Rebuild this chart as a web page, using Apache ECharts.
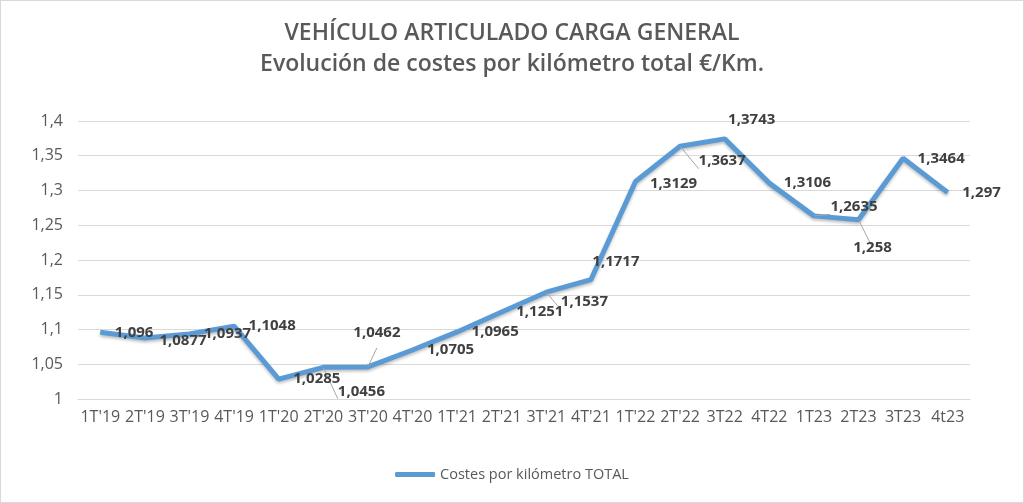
<!DOCTYPE html>
<html>
<head>
<meta charset="utf-8">
<script src="https://cdn.jsdelivr.net/npm/echarts@6/dist/echarts.min.js"></script>
<style>
  html, body { margin: 0; padding: 0; background: #fff; }
  #chart { width: 1022px; height: 501px; border: 1px solid #d9d9d9; }
</style>
</head>
<body>
<div id="chart"></div>
<script>
// datos
var categorias = ["1T'19", "2T'19", "3T'19", "4T'19", "1T'20", "2T'20", "3T'20", "4T'20",
  "1T'21", "2T'21", "3T'21", "4T'21", "1T'22", "2T'22", "3T22", "4T22",
  "1T23", "2T23", "3T23", "4t23"];
var costesTotal = [1.096, 1.0877, 1.0937, 1.1048, 1.0285, 1.0456, 1.0462, 1.0705,
  1.0965, 1.1251, 1.1537, 1.1717, 1.3129, 1.3637, 1.3743, 1.3106,
  1.2635, 1.258, 1.3464, 1.297];
var nombreSerie = 'Costes por kilómetro TOTAL';

// colocacion de etiquetas (como en el original de Excel)
var posEtiqueta = {
  1: { position: 'right', offset: [0, 3] },
  5: { position: 'right', offset: [0, 24] },
  6: { position: 'top', offset: [9, -12] },
  10: { position: 'right', offset: [0, 10] },
  11: { position: 'top', offset: [25, 4] },
  12: { position: 'right', offset: [0, 2] },
  13: { position: 'right', offset: [4, 15] },
  14: { position: 'top', offset: [27, 3] },
  16: { position: 'right', offset: [2, -9] },
  17: { position: 'bottom', offset: [14, 6] }
};
var conGuia = [5, 6, 10, 13, 16, 17];

var coma = function(v) { return String(v).replace('.', ','); };

var datos = costesTotal.map(function(v, i) {
  var d = { value: v };
  if (posEtiqueta[i]) d.label = posEtiqueta[i];
  if (conGuia.indexOf(i) >= 0) d.labelLine = { show: true };
  return d;
});

var chart = echarts.init(document.getElementById('chart'));
var option = {
  animation: false,
  textStyle: { fontFamily: '"Open Sans", "Noto Sans", sans-serif' },
  title: {
    text: 'VEHÍCULO ARTICULADO CARGA GENERAL\nEvolución de costes por kilómetro total €/Km.',
    left: 'center',
    top: 12,
    textStyle: {
      fontSize: 23,
      fontWeight: 600,
      color: '#595959',
      lineHeight: 31,
      fontFamily: '"Open Sans", sans-serif'
    }
  },
  legend: {
    bottom: 15,
    left: 'center',
    data: [nombreSerie],
    icon: 'roundRect',
    itemWidth: 40,
    itemHeight: 5,
    itemGap: 4,
    itemStyle: { color: '#5b9bd5' },
    textStyle: { fontSize: 14.5, color: '#595959' }
  },
  grid: { left: 77, right: 53, top: 120, bottom: 103 },
  xAxis: {
    type: 'category',
    data: categorias,
    boundaryGap: true,
    axisLine: { lineStyle: { color: '#d9d9d9' } },
    axisTick: { show: false },
    axisLabel: { color: '#595959', fontSize: 16, margin: 10, interval: 0 }
  },
  yAxis: {
    type: 'value',
    min: 1,
    max: 1.4,
    interval: 0.05,
    axisLine: { show: false },
    axisTick: { show: false },
    splitLine: { lineStyle: { color: '#d9d9d9' } },
    axisLabel: {
      color: '#595959',
      fontSize: 16,
      margin: 15,
      formatter: function(v) { return coma(Math.round(v * 100) / 100); }
    }
  },
  series: [{
    name: nombreSerie,
    type: 'line',
    data: datos,
    symbol: 'circle',
    symbolSize: 1,
    showSymbol: true,
    lineStyle: {
      width: 5,
      color: '#5b9bd5',
      shadowColor: 'rgba(0,0,0,0.25)',
      shadowBlur: 3,
      shadowOffsetY: 2
    },
    itemStyle: { color: '#5b9bd5' },
    labelLine: { show: false, lineStyle: { color: '#a6a6a6', width: 1 } },
    label: {
      show: true,
      position: 'right',
      distance: 14,
      fontSize: 15,
      fontWeight: 'bold',
      color: '#404040',
      formatter: function(p) { return coma(p.value); }
    }
  }]
};
chart.setOption(option);
</script>
</body>
</html>
